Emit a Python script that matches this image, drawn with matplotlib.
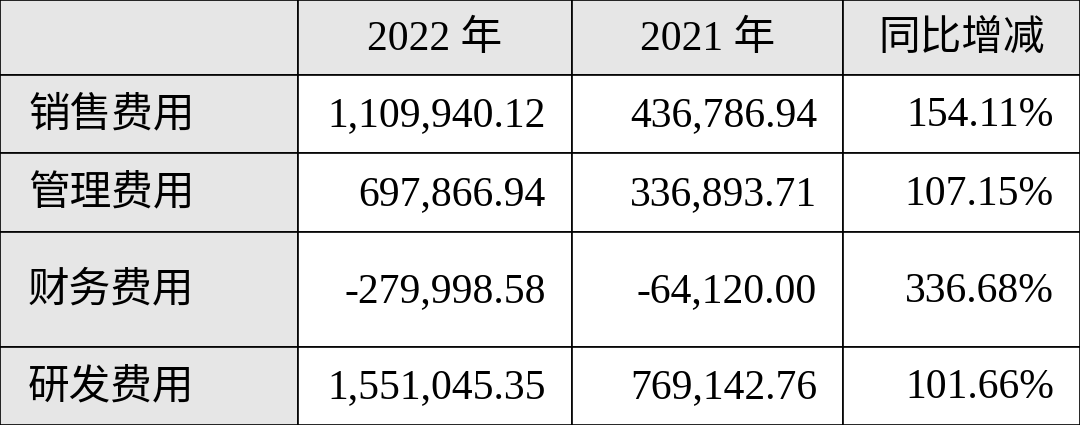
import matplotlib
matplotlib.use("Agg")
import matplotlib.pyplot as plt
from matplotlib.patches import Rectangle

headers = ["", "2022 年", "2021 年", "同比增减"]
items = ["销售费用", "管理费用", "财务费用", "研发费用"]
y2022 = ["1,109,940.12", "697,866.94", "-279,998.58", "1,551,045.35"]
y2021 = ["436,786.94", "336,893.71", "-64,120.00", "769,142.76"]
yoy = ["154.11%", "107.15%", "336.68%", "101.66%"]

W, H = 1080, 425
col_x = [0, 298, 572, 843, 1080]
row_y = [0, 75, 153, 232, 347, 425]
gray = "#e6e6e6"
font = ["Liberation Serif", "Noto Sans CJK SC", "DejaVu Sans"]
fs = 30

fig = plt.figure(figsize=(W / 100, H / 100), dpi=100)
ax = fig.add_axes([0, 0, 1, 1])
ax.set_xlim(0, W)
ax.set_ylim(H, 0)
ax.axis("off")

for r in range(5):
    for c in range(4):
        x0, x1 = col_x[c], col_x[c + 1]
        y0, y1 = row_y[r], row_y[r + 1]
        fill = gray if (r == 0 or c == 0) else "white"
        ax.add_patch(Rectangle((x0, y0), x1 - x0, y1 - y0, facecolor=fill,
                               edgecolor="black", linewidth=1.2))

for c in range(1, 4):
    ax.text((col_x[c] + col_x[c + 1]) / 2, row_y[0] + 40, headers[c], ha="center",
            va="center", fontsize=fs, family=font)

for i in range(4):
    yc = (row_y[i + 1] + row_y[i + 2]) / 2 + 2
    ax.text(28, yc, items[i], ha="left", va="center", fontsize=fs, family=font)
    for c, vals in zip((1, 2, 3), (y2022, y2021, yoy)):
        ax.text(col_x[c + 1] - 26, yc, vals[i], ha="right", va="center",
                fontsize=fs, family=font)

fig.savefig("out.png", dpi=100)
